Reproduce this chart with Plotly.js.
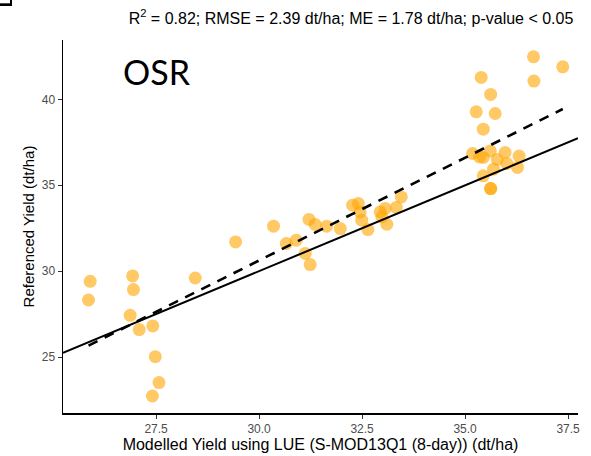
<!DOCTYPE html>
<html>
<head>
<meta charset="utf-8">
<script src="https://cdn.plot.ly/plotly-3.0.1.min.js"></script>
<style>
  html, body { margin: 0; padding: 0; background: #fff; }
  #chart { width: 591px; height: 456px; }
</style>
</head>
<body>
<div id="chart"></div>
<script>
// Modelled yield (x) and referenced yield (y), dt/ha
var modelled = [25.90, 25.86, 26.93, 26.95, 26.87, 27.09, 27.42, 27.48, 27.57, 27.41,
  28.45, 29.43, 30.35, 30.66, 30.90, 31.21, 31.36, 31.64, 31.12, 31.24,
  31.97, 32.27, 32.41, 32.45, 32.49, 32.64, 32.94, 32.98, 33.06, 33.10,
  33.33, 33.45, 36.66, 37.37, 36.67, 35.39, 35.62, 35.27, 35.73, 35.44,
  35.18, 35.35, 35.44, 35.61, 35.78, 35.97, 36.01, 36.31, 35.69, 36.27,
  35.44, 35.62, 35.62];
var referenced = [29.41, 28.32, 29.72, 28.93, 27.43, 26.60, 26.81, 25.02, 23.51, 22.73,
  29.60, 31.70, 32.62, 31.61, 31.80, 33.01, 32.72, 32.62, 31.03, 30.38,
  32.48, 33.84, 33.94, 33.45, 32.97, 32.42, 33.45, 33.16, 33.65, 32.73,
  33.71, 34.32, 42.48, 41.90, 41.07, 41.28, 40.29, 39.28, 39.18, 38.27,
  36.85, 36.66, 36.62, 37.00, 36.50, 36.91, 36.27, 36.70, 35.94, 36.04,
  35.55, 34.81, 34.81];

var xTicks = [27.5, 30.0, 32.5, 35.0, 37.5];
var xTickLabels = ["27.5", "30.0", "32.5", "35.0", "37.5"];
var yTicks = [25, 30, 35, 40];
var yTickLabels = ["25", "30", "35", "40"];
var xRange = [25.24, 37.74];
var yRange = [21.74, 43.46];

var titleText = "R<sup>2</sup> = 0.82; RMSE = 2.39 dt/ha; ME = 1.78 dt/ha; p-value < 0.05";
var panelLabel = "OSR";

// least-squares fit of referenced on modelled
function linfit(x, y) {
  var n = x.length, sx = 0, sy = 0, sxx = 0, sxy = 0;
  for (var i = 0; i < n; i++) { sx += x[i]; sy += y[i]; sxx += x[i]*x[i]; sxy += x[i]*y[i]; }
  var b = (n*sxy - sx*sy) / (n*sxx - sx*sx);
  var a = (sy - b*sx) / n;
  return {a: a, b: b};
}
var fit = linfit(modelled, referenced);
var xMin = Math.min.apply(null, modelled), xMax = Math.max.apply(null, modelled);
var fitX = [xMin, xMax];
var fitY = fitX.map(function (v) { return fit.a + fit.b * v; });

var W = 591, H = 456;
var M = {l: 63, r: 13, t: 40, b: 43};
function px2paperX(p) { return (p - M.l) / (W - M.l - M.r); }
function px2paperY(p) { return (H - M.b - p) / (H - M.t - M.b); }

var traces = [
  {
    x: modelled, y: referenced, type: 'scatter', mode: 'markers',
    marker: {color: '#FFA500', opacity: 0.6, size: 13, line: {width: 0}},
    hoverinfo: 'skip', showlegend: false
  },
  {
    x: xRange, y: xRange, type: 'scatter', mode: 'lines',
    line: {color: '#000000', width: 2}, hoverinfo: 'skip', showlegend: false
  },
  {
    x: fitX, y: fitY, type: 'scatter', mode: 'lines',
    line: {color: '#000000', width: 2.6, dash: '10px,8px'}, hoverinfo: 'skip', showlegend: false
  }
];

var axisFont = {family: 'Liberation Sans, Arial, sans-serif', size: 12, color: '#4d4d4d'};
var layout = {
  width: W, height: H,
  margin: M,
  paper_bgcolor: '#ffffff', plot_bgcolor: '#ffffff',
  showlegend: false,
  title: {
    text: titleText,
    font: {family: 'Liberation Sans, Arial, sans-serif', size: 16, color: '#000000'},
    x: px2paperX(351), xanchor: 'center', xref: 'paper',
    y: 1 - 18 / H, yanchor: 'middle', yref: 'container'
  },
  xaxis: {
    range: xRange, tickvals: xTicks, ticktext: xTickLabels,
    showgrid: false, zeroline: false,
    showline: true, linecolor: '#000000', linewidth: 1.5, mirror: false,
    ticks: 'outside', ticklen: 4, tickwidth: 1, tickcolor: '#333333',
    tickfont: axisFont,
    title: {text: 'Modelled Yield using LUE (S-MOD13Q1 (8-day)) (dt/ha)',
      font: {family: 'Liberation Sans, Arial, sans-serif', size: 16, color: '#000000'}, standoff: 2}
  },
  yaxis: {
    range: yRange, tickvals: yTicks, ticktext: yTickLabels,
    showgrid: false, zeroline: false,
    showline: true, linecolor: '#000000', linewidth: 1.5, mirror: false,
    ticks: 'outside', ticklen: 4, tickwidth: 1, tickcolor: '#333333',
    tickfont: axisFont,
    title: {text: 'Referenced Yield (dt/ha)',
      font: {family: 'Liberation Sans, Arial, sans-serif', size: 15, color: '#000000'}, standoff: 3}
  },
  annotations: [
    {
      text: panelLabel, xref: 'paper', yref: 'paper',
      x: px2paperX(157), y: px2paperY(72), xanchor: 'center', yanchor: 'middle',
      showarrow: false,
      font: {family: 'Lato, Open Sans, sans-serif', size: 34, color: '#000000'}
    }
  ],
  shapes: [
    {type: 'rect', xref: 'paper', yref: 'paper', layer: 'above',
      x0: px2paperX(0), x1: px2paperX(12), y0: px2paperY(3.3), y1: px2paperY(6),
      fillcolor: '#000000', line: {width: 0}},
    {type: 'rect', xref: 'paper', yref: 'paper', layer: 'above',
      x0: px2paperX(10), x1: px2paperX(12), y0: px2paperY(0), y1: px2paperY(6),
      fillcolor: '#000000', line: {width: 0}}
  ]
};

Plotly.newPlot('chart', traces, layout, {staticPlot: true, displayModeBar: false});
</script>
</body>
</html>
